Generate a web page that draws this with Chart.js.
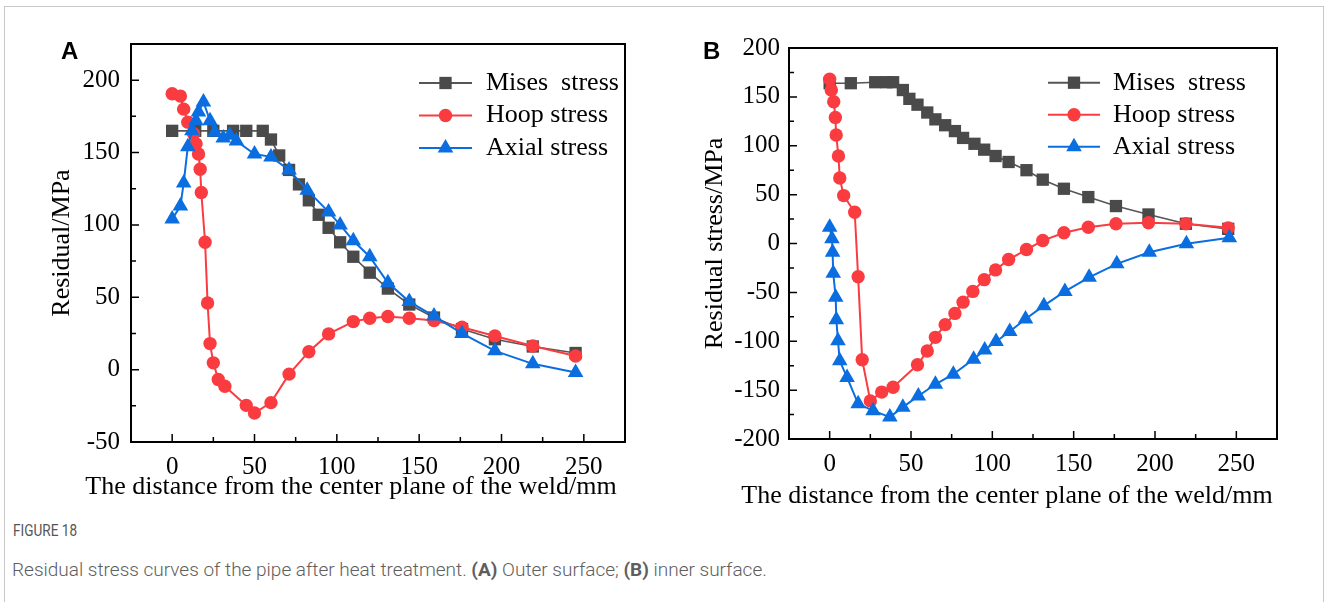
<!DOCTYPE html>
<html>
<head>
<meta charset="utf-8">
<script src="https://cdn.jsdelivr.net/npm/chart.js@4.4.1/dist/chart.umd.min.js"></script>
<style>
  body { margin: 0; width: 1328px; height: 602px; background: #fff; position: relative; overflow: hidden; }
  .box { position: absolute; left: 4px; top: 6px; right: 4px; bottom: -10px; border: 1px solid #c8c8c8; }
  canvas { position: absolute; top: 0; }
  #chartA { left: 0; }
  #chartB { left: 660px; }
  #figNum { position: absolute; left: 13px; top: 520px; font: 17px Roboto, sans-serif; color: #555; line-height: 20px; transform: scaleX(0.8); transform-origin: left center; }
  #caption { position: absolute; left: 12px; top: 559px; font: 19px Roboto, sans-serif; font-weight: 300; color: #5e5e5e; line-height: 22px; }
  #caption b { font-weight: 700; }
</style>
</head>
<body>
<div class="box"></div>
<canvas id="chartA" width="680" height="520"></canvas>
<canvas id="chartB" width="668" height="520"></canvas>
<div id="figNum">FIGURE 18</div>
<div id="caption">Residual stress curves of the pipe after heat treatment. <b>(A)</b> Outer surface; <b>(B)</b> inner surface.</div>
<script>
// (A) outer surface
const distMisesA = [0, 14, 25, 37, 45, 55, 60, 65, 71, 77, 83, 89, 95, 102, 110, 120, 131, 144, 159, 176, 196, 219, 245];
const misesA = [165, 165, 165, 165, 165, 165, 159, 148, 138, 128, 117, 107, 98, 88, 78, 67, 56, 45, 36, 28, 21, 16, 11.5];
const distHoopA = [0, 5, 7, 9.5, 13, 14.5, 16, 17, 17.7, 20, 21.5, 23, 25, 28, 32, 45, 50, 60, 71, 83, 95, 110, 120, 131, 144, 159, 176, 196, 219, 245];
const hoopA = [190.6, 189, 180, 171, 163, 156, 149, 138.5, 122.4, 88, 46, 18, 4.7, -6.8, -11.5, -24.7, -30, -22.8, -3.1, 12.4, 24.7, 33.2, 35.5, 36.7, 35.5, 33.9, 29.3, 23.3, 16.3, 9.4];
const distAxialA = [0, 5, 7, 9.5, 12, 14.5, 16, 19, 23, 26, 31, 35, 39, 50, 60, 71, 82, 95, 102, 110, 120, 131, 144, 159, 176, 196, 219, 245];
const axialA = [104, 113, 129, 154, 165, 172, 178, 185, 172, 164, 160, 162, 158, 149, 147, 138, 124, 109, 100, 89, 78, 60, 47, 37, 25, 13, 4, -2];

// (B) inner surface
const distMisesB = [0, 13, 28, 35, 39, 45, 49, 54, 60, 65, 71, 77, 82, 89, 95, 102, 110, 121, 131, 144, 159, 176, 196, 219, 245];
const misesB = [164, 164, 165, 165, 165, 157, 148, 142, 134, 127, 121, 115, 108, 102, 96, 89.5, 83.4, 75, 65.3, 56, 47.5, 38.3, 29.7, 20.2, 15];
const distHoopB = [0, 1, 2.5, 3.5, 4, 5.4, 6.2, 8.6, 15.4, 17.5, 20, 25, 32, 39, 54, 60, 65, 71, 77, 82, 88, 95, 102, 110, 121, 131, 144, 159, 176, 196, 219, 245];
const hoopB = [168, 157, 145, 129, 111, 89.5, 67, 49, 32, -34, -119, -161, -152, -147, -124, -110, -96, -83, -71.5, -60, -49, -37, -27, -16.4, -6.2, 3, 11, 16.7, 20.2, 21.2, 20.2, 16];
const distAxialB = [0, 1.4, 1.8, 2.2, 3.7, 4.1, 5.1, 6.2, 10.7, 17.5, 26.7, 37, 45, 54.5, 65, 76, 88.5, 95.3, 102.3, 110.7, 120.4, 131.7, 144.6, 159.5, 176.5, 196.5, 219.3, 245.7];
const axialB = [16.7, 4.8, -9, -30.5, -55, -78, -99.5, -120, -137, -164, -171, -177.6, -167.4, -156, -144, -133.7, -118.3, -109, -100.2, -90, -77.2, -63.6, -49, -34.6, -20.8, -8.9, -0.3, 5.8];

const seriesNames = ["Mises  stress", "Hoop stress", "Axial stress"];
const xTickLabels = [0, 50, 100, 150, 200, 250];
const yTickLabelsA = [-50, 0, 50, 100, 150, 200];
const yTickLabelsB = [-200, -150, -100, -50, 0, 50, 100, 150, 200];

const colors = ["#4a4a4a", "#fa3c40", "#0a6ee0"];
const lineColors = ["#555555", "#fa3c40", "#0a6ee0"];
const styles = ["rect", "circle", "triangle"];
const radii = [8.7, 6.7, 9];

const serif = "'Liberation Serif', 'Times New Roman', serif";

const toPoints = (xs, ys) => xs.map((x, i) => ({ x: x, y: ys[i] }));

const makeDataset = (i, xs, ys) => ({
  label: seriesNames[i],
  data: toPoints(xs, ys),
  showLine: true,
  borderColor: lineColors[i],
  borderWidth: i === 0 ? 1.6 : 2,
  backgroundColor: colors[i],
  pointStyle: styles[i],
  pointRadius: radii[i],
  pointBorderWidth: 0,
  order: 3 - i,
});

// frame, inward ticks, x title, legend and panel letter
const decor = {
  id: "decor",
  afterDraw: (chart, args, opts) => {
    const { ctx, chartArea: a, scales } = chart;
    ctx.save();
    ctx.strokeStyle = "#000";
    ctx.lineWidth = 1.5;
    ctx.beginPath();
    scales.x.ticks.forEach((t) => {
      if (t.value <= scales.x.min || t.value >= scales.x.max) return;
      const px = scales.x.getPixelForValue(t.value);
      const len = xTickLabels.includes(t.value) ? 8 : 5;
      ctx.moveTo(px, a.bottom);
      ctx.lineTo(px, a.bottom - len);
    });
    scales.y.ticks.forEach((t) => {
      if (t.value <= scales.y.min || t.value >= scales.y.max) return;
      const py = scales.y.getPixelForValue(t.value);
      const len = opts.yLabels.includes(t.value) ? 8 : 5;
      ctx.moveTo(a.left, py);
      ctx.lineTo(a.left + len, py);
    });
    ctx.stroke();

    ctx.lineWidth = 2;
    ctx.strokeRect(a.left, a.top, a.right - a.left, a.bottom - a.top);

    ctx.fillStyle = "#000";
    ctx.font = "26px " + serif;
    ctx.textAlign = "center";
    ctx.textBaseline = "middle";
    ctx.fillText(opts.xTitle, (a.left + a.right) / 2 + opts.xTitleShift, opts.xTitleY);

    // legend: line sample with marker, then label
    const lg = opts.legend;
    ctx.textAlign = "left";
    chart.data.datasets.forEach((ds, i) => {
      const y = lg.y0 + i * lg.dy;
      ctx.strokeStyle = ds.borderColor;
      ctx.lineWidth = 2;
      ctx.beginPath();
      ctx.moveTo(lg.x0, y);
      ctx.lineTo(lg.x1, y);
      ctx.stroke();
      ctx.fillStyle = ds.backgroundColor;
      Chart.helpers.drawPoint(ctx, { pointStyle: ds.pointStyle, radius: ds.pointRadius, rotation: 0, borderWidth: 0 }, (lg.x0 + lg.x1) / 2, y);
      ctx.fillStyle = "#000";
      ctx.fillText(ds.label, lg.tx, y);
    });

    ctx.font = "bold 24px 'Liberation Sans', Arial, sans-serif";
    ctx.fillText(opts.letter, opts.letterX, opts.letterY);
    ctx.restore();
  },
};

const makeChart = (id, datasets, o) => {
  new Chart(document.getElementById(id), {
    type: "scatter",
    data: { datasets: datasets },
    plugins: [decor],
    options: {
      responsive: false,
      animation: false,
      events: [],
      layout: { padding: { left: 0, top: o.top, right: o.right, bottom: 0 } },
      scales: {
        x: {
          type: "linear",
          min: -25,
          max: 275,
          afterFit: (s) => { s.height = o.xHeight; },
          grid: { display: false, drawTicks: false },
          border: { display: false },
          ticks: {
            stepSize: 25,
            autoSkip: false,
            maxRotation: 0,
            padding: o.xTickPad,
            color: "#000",
            font: { family: serif, size: 25 },
            callback: (v) => (xTickLabels.includes(v) ? String(v) : ""),
          },
        },
        y: {
          type: "linear",
          min: o.yMin,
          max: o.yMax,
          afterFit: (s) => { s.width = o.yWidth; },
          grid: { display: false, drawTicks: false },
          border: { display: false },
          title: {
            display: true,
            text: o.yTitle,
            color: "#000",
            font: { family: serif, size: 26 },
            padding: { top: o.yTitlePad, bottom: 0 },
          },
          ticks: {
            stepSize: 25,
            autoSkip: false,
            padding: o.yTickPad,
            color: "#000",
            font: { family: serif, size: 25 },
            callback: (v) => (o.yLabels.includes(v) ? String(v) : ""),
          },
        },
      },
      plugins: {
        legend: { display: false },
        tooltip: { enabled: false },
        decor: {
          yLabels: o.yLabels,
          xTitle: "The distance from the center plane of the weld/mm",
          xTitleShift: o.xTitleShift,
          xTitleY: o.xTitleY,
          legend: o.legend,
          letter: o.letter,
          letterX: o.letterX,
          letterY: o.letterY,
        },
      },
    },
  });
};

makeChart(
  "chartA",
  [makeDataset(0, distMisesA, misesA), makeDataset(1, distHoopA, hoopA), makeDataset(2, distAxialA, axialA)],
  {
    top: 44, right: 55, xHeight: 78, yWidth: 131,
    yMin: -50, yMax: 225, yLabels: yTickLabelsA,
    yTitle: "Residual/MPa", yTitlePad: 47,
    xTickPad: 10, yTickPad: 11,
    xTitleShift: -27, xTitleY: 487,
    legend: { x0: 419, x1: 472, tx: 486, y0: 83, dy: 32.5 },
    letter: "A", letterX: 61, letterY: 52,
  }
);

makeChart(
  "chartB",
  [makeDataset(0, distMisesB, misesB), makeDataset(1, distHoopB, hoopB), makeDataset(2, distAxialB, axialB)],
  {
    top: 48, right: 51, xHeight: 81, yWidth: 129,
    yMin: -200, yMax: 200, yLabels: yTickLabelsB,
    yTitle: "Residual stress/MPa", yTitlePad: 40,
    xTickPad: 10, yTickPad: 9,
    xTitleShift: -26, xTitleY: 496,
    legend: { x0: 388, x1: 440, tx: 453, y0: 82.7, dy: 32 },
    letter: "B", letterX: 43, letterY: 52,
  }
);
</script>
</body>
</html>
